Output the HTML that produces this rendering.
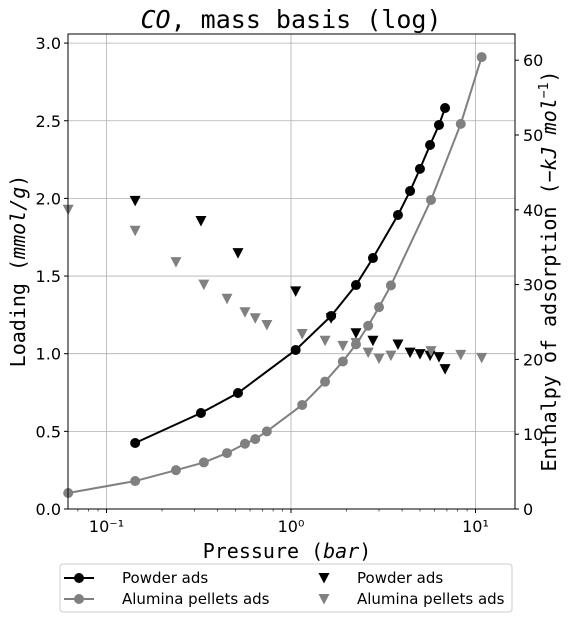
<!DOCTYPE html>
<html><head><meta charset="utf-8"><style>
body{margin:0;background:#fff;width:568px;height:621px;overflow:hidden}
svg{display:block}
</style></head><body>
<svg id="c" width="568" height="621" xmlns="http://www.w3.org/2000/svg"></svg>
<script>
const powderP=[0.143,0.325,0.516,1.06,1.65,2.25,2.78,3.8,4.42,5.0,5.67,6.34,6.84];
const powderLoad=[0.425,0.618,0.747,1.024,1.243,1.442,1.616,1.893,2.048,2.19,2.344,2.473,2.582];
const powderH=[41.2,38.5,34.2,29.1,25.5,23.5,22.5,22.0,20.9,20.7,20.5,20.3,18.7];
const alumP=[0.062,0.143,0.238,0.337,0.45,0.563,0.64,0.74,1.15,1.53,1.91,2.25,2.62,3.0,3.48,5.74,8.32,10.8];
const alumLoad=[0.103,0.18,0.25,0.30,0.36,0.42,0.45,0.50,0.67,0.82,0.95,1.06,1.18,1.30,1.44,1.99,2.48,2.91];
const alumH=[40,37.2,33,30,28.1,26.3,25.5,24.6,23.4,22.5,21.8,22.2,20.9,20.1,20.5,21.1,20.6,20.2];
const leftTicks=[0,0.5,1.0,1.5,2.0,2.5,3.0];
const rightTicks=[0,10,20,30,40,50,60];
const xTicks=[0.1,1,10];
const xTickLabels=["10\u207B\u00B9","10\u2070","10\u00B9"];

const L=68,R=515,T=34,B=509;
const X=v=>291+Math.log10(v)*184.5;
const Y=v=>B-v*155.3;
const Y2=v=>B-v*7.48;
const svg=document.getElementById('c');
const NS='http://www.w3.org/2000/svg';
function mk(tag,attrs,parent){const e=document.createElementNS(NS,tag);for(const k in attrs)e.setAttribute(k,attrs[k]);(parent||svg).appendChild(e);return e;}
const SANS='DejaVu Sans, Liberation Sans, sans-serif', MONO='DejaVu Sans Mono, Liberation Mono, monospace';

const grid=mk('g',{});


leftTicks.forEach(t=>mk('line',{x1:L,x2:R,y1:Y(t),y2:Y(t),stroke:'#b0b0b0','stroke-width':0.8},grid));
xTicks.forEach(t=>mk('line',{x1:X(t),x2:X(t),y1:T,y2:B,stroke:'#b0b0b0','stroke-width':0.8},grid));

for(let d=-2;d<=1;d++)for(let m=2;m<10;m++){const v=m*Math.pow(10,d);const x=X(v);if(x>L&&x<R)mk('line',{x1:x,x2:x,y1:B,y2:B+2.5,stroke:'#000','stroke-width':0.6});}
xTicks.forEach((t,i)=>{mk('line',{x1:X(t),x2:X(t),y1:B,y2:B+4,stroke:'#000'});
 const tx=mk('text',{x:X(t),y:B+23,'text-anchor':'middle','font-size':16,'font-family':SANS});tx.textContent=xTickLabels[i];
 });
leftTicks.forEach(t=>{mk('line',{x1:L-4,x2:L,y1:Y(t),y2:Y(t),stroke:'#000'});
 const tx=mk('text',{x:L-7,y:Y(t)+6,'text-anchor':'end','font-size':16,'font-family':SANS});tx.textContent=t.toFixed(1);
 });
rightTicks.forEach(t=>{mk('line',{x1:R,x2:R+4,y1:Y2(t),y2:Y2(t),stroke:'#000'});
 const tx=mk('text',{x:R+8,y:Y2(t)+6,'font-size':16,'font-family':SANS});tx.textContent=t;
 });

function lineSeries(xs,ys,color,name){
 const g=mk('g',{});
 
 
 mk('polyline',{points:xs.map((v,i)=>X(v)+','+Y(ys[i])).join(' '),fill:'none',stroke:color,'stroke-width':2},g);
 xs.forEach((v,i)=>{const c=mk('circle',{cx:X(v),cy:Y(ys[i]),r:5,fill:color},g);
  });
}
function triSeries(xs,ys,color,name){
 const g=mk('g',{});
 
 
 xs.forEach((v,i)=>{const x=X(v),y=Y2(ys[i]);
  const p=mk('polygon',{points:`${x-5.5},${y-5} ${x+5.5},${y-5} ${x},${y+5.5}`,fill:color},g);
  });
}
lineSeries(alumP,alumLoad,'#808080','alumina-loading-series');
lineSeries(powderP,powderLoad,'#000','powder-loading-series');
triSeries(powderP,powderH,'#000','powder-enthalpy-series');
triSeries(alumP,alumH,'#808080','alumina-enthalpy-series');

mk('rect',{x:L,y:T,width:R-L,height:B-T,fill:'none',stroke:'#000','stroke-width':1});

const title=mk('text',{x:291,y:28,'text-anchor':'middle','font-size':25,'font-family':MONO});
title.innerHTML='<tspan font-style="italic">CO</tspan>, mass basis (log)';

const xl=mk('text',{x:287,y:558,'text-anchor':'middle','font-size':20,'font-family':MONO});
xl.innerHTML='Pressure (<tspan font-style="italic">bar</tspan>)';

const yl=mk('text',{transform:'translate(25,271) rotate(-90)','text-anchor':'middle','font-size':20,'font-family':MONO});
yl.innerHTML='Loading (<tspan font-style="italic">mmol/g</tspan>)';

const y2l=mk('text',{transform:'translate(556,271) rotate(-90)','text-anchor':'middle','font-size':20,'font-family':MONO});
y2l.innerHTML='Enthalpy of adsorption (<tspan font-style="italic">−kJ mol</tspan><tspan font-size="13" dy="-8">−1</tspan><tspan dy="8">)</tspan>';


const lg=mk('g',{});

mk('rect',{x:60,y:564,width:452,height:48,rx:3,fill:'#fff',stroke:'#ccc'},lg);
function entry(x,y,color,kind,label,tx){
 const g=mk('g',{},lg);
 
 if(kind==='line'){mk('line',{x1:x,x2:x+30,y1:y,y2:y,stroke:color,'stroke-width':2},g);mk('circle',{cx:x+15,cy:y,r:5,fill:color},g);}
 else mk('polygon',{points:`${x+9.5},${y-5} ${x+20.5},${y-5} ${x+15},${y+5.5}`,fill:color},g);
 const t=mk('text',{x:tx,y:y+5,'font-size':15,'font-family':SANS},g);t.textContent=label;
}
entry(64,578,'#000','line','Powder ads',122);
entry(64,599,'#808080','line','Alumina pellets ads',122);
entry(309,578,'#000','tri','Powder ads',357);
entry(309,599,'#808080','tri','Alumina pellets ads',357);
</script>
</body></html>
